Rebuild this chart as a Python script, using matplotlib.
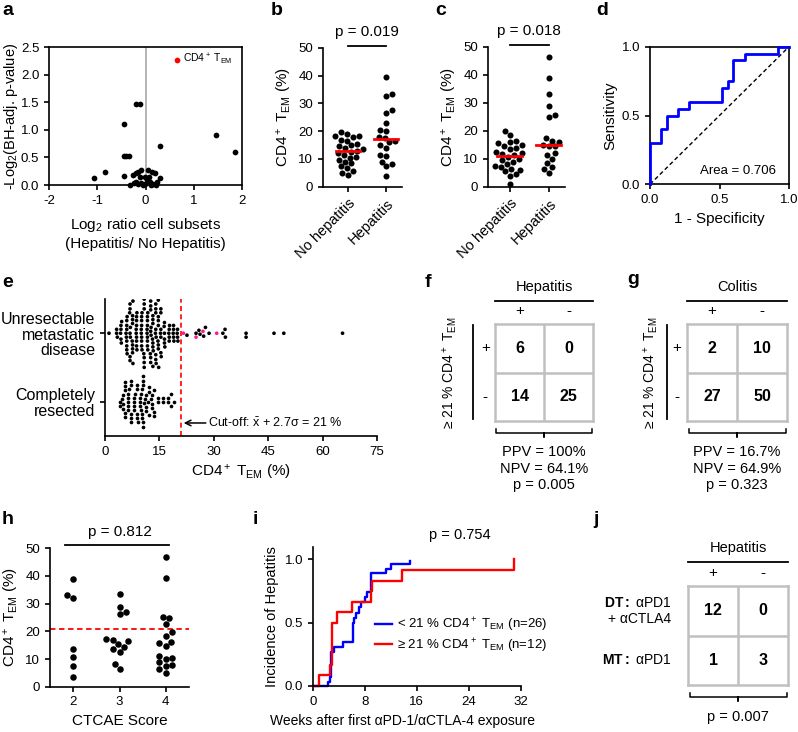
import numpy as np
import matplotlib
matplotlib.use('Agg')
import matplotlib.pyplot as plt

# ---- data ----
# a: volcano plot
a_log2ratio = [-1.06, -0.84, -0.45, -0.44, -0.40, -0.35, -0.19, -0.12, -0.45, -0.32,
               0.30, 1.47, 1.85, -0.23, -0.20, -0.16, -0.10, -0.12, -0.19, -0.09,
               -0.02, 0.03, 0.05, 0.13, 0.19, 0.10, 0.15, 0.24, 0.30, 0.22,
               -0.02, -0.26, 0.08, -0.06, -0.16, 0.12]
a_neglogp = [0.12, 0.23, 1.11, 0.53, 0.53, 0.53, 1.47, 1.47, 0.16, 0.00,
             0.70, 0.90, 0.60, 0.04, 0.21, 0.24, 0.28, 0.15, 0.06, 0.04,
             0.02, 0.09, 0.28, 0.24, 0.21, 0.06, 0.02, 0.06, 0.12, 0.00,
             0.15, 0.18, 0.15, 0.00, 0.01, 0.00]
a_tem_x, a_tem_y = 0.65, 2.27

# b, c: CD4+ TEM in two cohorts
groups = ['No hepatitis', 'Hepatitis']
b_nohep = [19.8, 19.0, 18.2, 18.2, 17.8, 16.8, 16.5, 15.3, 15.0, 14.5, 13.8, 13.5, 13.0,
           12.6, 12.2, 11.5, 10.8, 10.5, 9.6, 9.0, 8.4, 7.5, 6.6, 5.8, 4.8, 4.2]
b_hep = [39.5, 33.5, 32.5, 27.5, 26.5, 23.0, 20.5, 20.0, 18.0, 17.5, 16.5, 16.0, 15.0,
         14.0, 11.5, 11.0, 9.0, 8.0, 7.5, 4.0]
c_nohep = [20.0, 18.5, 16.5, 16.0, 15.5, 15.0, 14.5, 14.0, 13.5, 12.5, 12.0, 11.8, 11.5,
           10.5, 10.0, 9.5, 9.0, 8.0, 7.5, 7.0, 6.5, 6.0, 5.5, 4.5, 4.0, 1.0]
c_hep = [46.5, 39.0, 33.0, 29.0, 25.5, 25.0, 17.5, 16.5, 16.0, 15.0, 14.5, 14.5, 12.0,
         11.5, 10.0, 8.5, 7.0, 6.5, 5.0]
b_p, c_p = '0.019', '0.018'

# d: ROC
roc_fpr = [0, 0, 0.08, 0.12, 0.20, 0.28, 0.52, 0.56, 0.60, 0.68, 0.92, 1.0]
roc_tpr = [0, 0.30, 0.40, 0.50, 0.55, 0.60, 0.70, 0.75, 0.90, 0.95, 1.0, 1.0]
roc_auc = '0.706'

# e: CD4+ TEM by cohort
e_rows = ['Unresectable\nmetastatic\ndisease', 'Completely\nresected']
e_unres = [1.1,
           3.2, 3.2, 3.4,
           4.4, 4.4, 4.5, 4.6, 4.3, 4.4,
           5.8, 6.0, 6.0, 6.0, 6.1, 6.0, 5.9, 6.0, 6.1, 6.0,
           6.9, 6.9, 7.0, 6.8, 6.9, 7.0, 6.9, 6.9,
           7.6, 7.6, 7.7, 7.5, 7.6, 7.6, 7.7, 7.6, 7.6,
           8.7, 8.7, 8.8, 8.6, 8.7, 8.7, 8.8, 8.7, 8.6, 8.7,
           10.1, 10.1, 10.0, 10.2, 10.1, 10.1, 10.0, 10.1, 10.2, 10.1,
           10.8, 10.8, 10.9, 10.8, 10.7, 10.8, 10.8, 10.8,
           11.7, 11.7, 11.8, 11.6, 11.7, 11.7, 11.8, 11.7, 11.7, 11.6,
           12.6, 12.6, 12.7, 12.5, 12.6, 12.6, 12.6, 12.7, 12.6,
           13.2, 13.2, 13.3, 13.2, 13.1, 13.2, 13.2, 13.2,
           14.0, 14.0, 14.1, 13.9, 14.0, 14.0, 14.0, 14.1, 14.0,
           14.7, 14.7, 14.8, 14.7, 14.6, 14.7, 14.7, 14.7,
           15.4, 15.4, 15.5, 15.3, 15.4, 15.4, 15.4,
           16.4, 16.4, 16.5, 16.3, 16.4, 16.4,
           17.7, 17.7, 17.8, 17.6, 17.7,
           18.9, 18.9, 19.0, 18.8, 18.9,
           20.0, 20.0, 20.1, 19.9,
           22.6, 25.1, 25.9, 26.2, 27.2, 27.7, 28.7, 32.5, 33.1, 33.2,
           38.9, 38.9, 46.6, 49.3, 65.5]
e_unres_hep = [21.6, 25.1, 27.0, 30.8]
e_resected = [4.0, 4.0, 4.9, 4.9, 4.8, 5.0, 5.5, 5.5, 5.6, 5.4, 5.5,
              6.4, 6.4, 6.3, 6.5, 6.4, 6.4, 7.2, 7.2, 7.3, 7.1, 7.2,
              8.1, 8.1, 8.2, 8.0, 8.1, 8.9, 8.9, 9.0, 8.8, 8.9,
              9.7, 9.7, 9.8, 9.6, 10.1, 10.1, 10.2, 10.0,
              10.6, 10.6, 10.7, 10.5, 10.6, 10.6, 11.2, 11.2, 11.3, 11.1,
              12.0, 12.0, 12.1, 11.9, 12.9, 12.9, 13.0, 12.8,
              13.5, 13.5, 13.6, 14.7, 14.7, 16.1, 16.1, 17.5, 17.5,
              18.1, 18.1, 18.9]
cutoff = 21

# f, g, j: contingency tables
f_counts = [[6, 0], [14, 25]]
f_stats = ['PPV = 100%', 'NPV = 64.1%', 'p = 0.005']
g_counts = [[2, 10], [27, 50]]
g_stats = ['PPV = 16.7%', 'NPV = 64.9%', 'p = 0.323']
j_counts = [[12, 0], [1, 3]]
j_rows = ['$\\mathbf{DT:}$ αPD1\n+ αCTLA4', '$\\mathbf{MT:}$ αPD1']
j_stats = ['p = 0.007']

# h: CTCAE score
h_scores = [2, 3, 4]
h_vals = [[38.8, 33.1, 32.2, 13.5, 10.8, 7.5, 3.4],
          [33.4, 28.7, 26.9, 26.1, 17.2, 16.9, 16.5, 15.3, 14.3, 13.6, 12.4, 8.1, 6.3],
          [46.7, 39.3, 25.3, 24.8, 22.7, 19.9, 18.4, 16.3, 15.7, 14.6, 11.2, 10.5, 10.1,
           8.8, 7.8, 7.5, 6.3, 5.1]]
h_p = '0.812'

# i: cumulative incidence of hepatitis
blue_t = [0, 2.4, 2.7, 2.85, 3.2, 4.7, 6.15, 6.3, 6.6, 7.1, 7.5, 8.0, 8.4, 8.9, 11.3, 12.0, 15.0]
blue_y = [0, 0.035, 0.075, 0.27, 0.31, 0.35, 0.50, 0.54, 0.58, 0.62, 0.66, 0.70, 0.74,
          0.89, 0.92, 0.96, 0.99]
red_t = [0, 0.9, 2.7, 2.9, 3.8, 6.0, 9.0, 9.1, 13.8, 30.9]
red_y = [0, 0.083, 0.167, 0.50, 0.583, 0.667, 0.75, 0.833, 0.917, 1.0]
i_p = '0.754'

# ---- style ----
plt.rcParams['font.family'] = ['Liberation Sans', 'DejaVu Sans']
plt.rcParams['mathtext.fontset'] = 'custom'
plt.rcParams['mathtext.rm'] = 'Liberation Sans'
plt.rcParams['mathtext.it'] = 'Liberation Sans:italic'
plt.rcParams['mathtext.bf'] = 'Liberation Sans:bold'
plt.rcParams['mathtext.default'] = 'regular'
plt.rcParams['axes.unicode_minus'] = False
plt.rcParams['axes.linewidth'] = 1.2
plt.rcParams['xtick.major.width'] = 1.2
plt.rcParams['ytick.major.width'] = 1.2
plt.rcParams['xtick.major.size'] = 3.5
plt.rcParams['ytick.major.size'] = 3.5
plt.rcParams['xtick.labelsize'] = 9.5
plt.rcParams['ytick.labelsize'] = 9.5
plt.rcParams['axes.labelsize'] = 11

RED = '#ff0000'
BLUE = '#0000ff'
PINK = '#ff1a8c'
GRAY = '#c0c0c0'
TEM = 'CD4$^+$ T$_{EM}$'

W, H = 798, 732
fig = plt.figure(figsize=(W / 100, H / 100), dpi=100)


def add_ax(l, t, r, b):
    return fig.add_axes([l / W, 1 - b / H, (r - l) / W, (b - t) / H])


def open_axes(ax):
    ax.spines['top'].set_visible(False)
    ax.spines['right'].set_visible(False)


def swarm_offsets(ax, vals, d, horizontal=False):
    # simple beeswarm in pixel space, returns offsets in data units
    p0 = ax.transData.transform((0, 0))
    p1 = ax.transData.transform((1, 1))
    sx, sy = np.abs(p1 - p0)
    sv, ss = (sx, sy) if horizontal else (sy, sx)
    vals = np.asarray(vals, float)
    offs = np.zeros(len(vals))
    placed = []
    sgn = 1
    for i in np.argsort(vals, kind='stable'):
        v = vals[i] * sv
        cands = [0.0] + [s * k * d * 0.25 for k in range(1, 400) for s in (sgn, -sgn)]
        for o in cands:
            if all((v - pv) ** 2 + (o - po) ** 2 >= d * d for pv, po in placed):
                break
        placed.append((v, o))
        offs[i] = o / ss
        sgn = -sgn
    return offs


def panel_label(x, y, s):
    fig.text(x / W, 1 - y / H, s, fontsize=14, fontweight='bold', va='baseline')


# ---- a ----
ax = add_ax(49, 47, 242, 185)
ax.axvline(0, color='#a8a8a8', lw=1.2, zorder=0)
ax.scatter(a_log2ratio, a_neglogp, s=17, color='k', lw=0, zorder=3, clip_on=False)
ax.scatter([a_tem_x], [a_tem_y], s=17, color=RED, lw=0, zorder=3)
ax.text(a_tem_x + 0.13, a_tem_y, TEM, fontsize=7.5, va='center')
ax.set_xlim(-2, 2)
ax.set_ylim(0, 2.5)
ax.set_xticks(range(-2, 3))
ax.set_yticks(np.arange(0, 2.51, 0.5))
ax.yaxis.set_major_formatter('{x:.1f}')
ax.set_xlabel('Log$_2$ ratio cell subsets\n(Hepatitis/ No Hepatitis)', labelpad=7)
ax.set_ylabel('-Log$_2$(BH-adj. p-value)', fontsize=10.5)
ax.yaxis.set_label_coords(-0.148, 0.5)


# ---- b, c ----
def column_panel(ax, data, pval, xlim):
    ax.set_xlim(*xlim)
    ax.set_ylim(0, 50)
    for k, vals in enumerate(data):
        off = swarm_offsets(ax, vals, 6.0)
        ax.scatter(k + off, vals, s=19, color='k', lw=0, zorder=3, clip_on=False)
        med = np.median(vals)
        ax.plot([k - 0.32, k + 0.32], [med, med], color=RED, lw=2, zorder=4)
    ax.plot([0, 1], [50.6, 50.6], color='k', lw=1.3, clip_on=False)
    ax.text(0.5, 53, f'p = {pval}', ha='center', va='bottom', fontsize=11)
    ax.set_xticks([0, 1])
    ax.set_xticklabels(groups, rotation=45, ha='right', rotation_mode='anchor', fontsize=10.5)
    ax.set_yticks(range(0, 51, 10))
    ax.set_ylabel(TEM + ' (%)', labelpad=3)
    open_axes(ax)


column_panel(add_ax(323, 47.7, 402, 186.7), [b_nohep, b_hep], b_p, (-0.66, 1.42))
column_panel(add_ax(488, 46.7, 565, 186.7), [c_nohep, c_hep], c_p, (-0.56, 1.41))

# ---- d ----
ax = add_ax(650, 46.7, 789, 184.3)
ax.plot([0, 1], [0, 1], color='k', ls=(0, (3, 2)), lw=1)
ax.step(roc_fpr, roc_tpr, where='post', color=BLUE, lw=2, clip_on=False, zorder=3)
ax.set_xlim(0, 1)
ax.set_ylim(0, 1)
ax.set_xticks([0, 0.5, 1])
ax.set_yticks([0, 0.5, 1])
ax.xaxis.set_major_formatter('{x:.1f}')
ax.yaxis.set_major_formatter('{x:.1f}')
ax.text(0.63, 0.1, f'Area = {roc_auc}', ha='center', va='center', fontsize=9.5)
ax.set_xlabel('1 - Specificity')
ax.set_ylabel('Sensitivity', labelpad=3)

# ---- e ----
ax = add_ax(105, 299, 377, 436)
ax.set_xlim(0, 75)
ax.set_ylim(-0.5, 1.5)
unres_all = e_unres + e_unres_hep
unres_col = ['k'] * len(e_unres) + [PINK] * len(e_unres_hep)
off = swarm_offsets(ax, unres_all, 3.9, horizontal=True)
ax.scatter(unres_all, 1 + off, s=7, c=unres_col, lw=0, zorder=3)
off = swarm_offsets(ax, e_resected, 4.1, horizontal=True)
ax.scatter(e_resected, off, s=7, color='k', lw=0, zorder=3)
ax.axvline(cutoff, color=RED, ls=(0, (3, 2)), lw=1.2)
ax.annotate('', xy=(cutoff + 0.7, -0.31), xytext=(cutoff + 6.8, -0.31),
            arrowprops=dict(arrowstyle='->', lw=1.1, color='k', shrinkA=0, shrinkB=0))
ax.text(cutoff + 7.4, -0.31, 'Cut-off: $\\bar{x}$ + 2.7σ = 21 %', va='center', fontsize=9)
ax.set_yticks([1, 0])
ax.set_yticklabels(e_rows, fontsize=11.5, linespacing=1.05)
ax.set_xticks(range(0, 76, 15))
ax.set_xlabel(TEM + ' (%)')
open_axes(ax)


# ---- f, g, j tables ----
def table_panel(ax, counts, header, stats):
    ax.set_xlim(0, 2)
    ax.set_ylim(2, 0)
    ax.set_xticks([])
    ax.set_yticks([])
    for sp in ax.spines.values():
        sp.set_color(GRAY)
        sp.set_linewidth(1.8)
    ax.axhline(1, color=GRAY, lw=1.8)
    ax.axvline(1, color=GRAY, lw=1.8)
    for i in range(2):
        for j in range(2):
            ax.text(j + 0.5, i + 0.5, str(counts[i][j]), ha='center', va='center',
                    fontsize=11.5, fontweight='bold')
    ax.text(1, -0.76, header, ha='center', va='center', fontsize=10.5)
    ax.plot([0.0, 2.0], [-0.48, -0.48], color='k', lw=1.3, clip_on=False)
    for j, s in enumerate(['+', '-']):
        ax.text(j + 0.5, -0.26, s, ha='center', va='center', fontsize=11)
    ax.plot([0.03, 0.03, 1, 1, 1, 1.97, 1.97], [2.17, 2.25, 2.25, 2.33, 2.25, 2.25, 2.17],
            color='k', lw=1.1, clip_on=False)
    for k, s in enumerate(stats):
        ax.text(1, 2.64 + 0.34 * k, s, ha='center', va='center', fontsize=10.5)


def table_rows(ax, line_x, label_x):
    for i, s in enumerate(['+', '-']):
        ax.text(-0.2, i + 0.5, s, ha='center', va='center', fontsize=11)
    ax.plot([line_x, line_x], [0.02, 1.95], color='k', lw=1.3, clip_on=False)
    ax.text(label_x, 1.0, '≥ 21 % ' + TEM, rotation=90, ha='center', va='center', fontsize=10)


ax = add_ax(495, 324, 593, 421)
table_panel(ax, f_counts, 'Hepatitis', f_stats)
table_rows(ax, -0.45, -0.92)

ax = add_ax(687, 324, 787, 421)
table_panel(ax, g_counts, 'Colitis', g_stats)
table_rows(ax, -0.41, -0.73)

ax = add_ax(688, 586, 788, 685)
table_panel(ax, j_counts, 'Hepatitis', [])
for i, s in enumerate(j_rows):
    ax.text(-0.33, i + 0.5, s, ha='right', va='center', multialignment='right', fontsize=10)
ax.text(1, 2.64, j_stats[0], ha='center', va='center', fontsize=10.5)

# ---- h ----
ax = add_ax(50, 548.3, 189, 686.7)
ax.set_xlim(1.5, 4.5)
ax.set_ylim(0, 50)
for sc, vals in zip(h_scores, h_vals):
    off = swarm_offsets(ax, vals, 6.5)
    ax.scatter(sc + off, vals, s=22, color='k', lw=0, zorder=3)
ax.axhline(cutoff, color=RED, ls=(0, (3, 2)), lw=1.3)
ax.plot([1.82, 4.07], [51.2, 51.2], color='k', lw=1.3, clip_on=False)
ax.text(3.0, 53.5, f'p = {h_p}', ha='center', va='bottom', fontsize=11)
ax.set_xticks(h_scores)
ax.set_yticks(range(0, 51, 10))
ax.set_xlabel('CTCAE Score')
ax.set_ylabel(TEM + ' (%)', labelpad=3)
open_axes(ax)

# ---- i ----
ax = add_ax(312.7, 546.7, 520.7, 686)
ax.step(blue_t, blue_y, where='post', color=BLUE, lw=1.7, clip_on=False,
        label='< 21 % ' + TEM + ' (n=26)')
ax.step(red_t, red_y, where='post', color=RED, lw=1.7, clip_on=False,
        label='≥ 21 % ' + TEM + ' (n=12)')
ax.set_xlim(0, 32)
ax.set_ylim(0, 1.1)
ax.set_xticks(range(0, 33, 8))
ax.set_yticks([0, 0.5, 1.0])
ax.yaxis.set_major_formatter('{x:.1f}')
ax.text(22.7, 1.19, f'p = {i_p}', ha='center', va='center', fontsize=10.5)
ax.legend(loc='upper left', bbox_to_anchor=(0.3, 0.5), frameon=False, fontsize=9.5,
          handlelength=1.25, handletextpad=0.4, labelspacing=0.15, borderpad=0,
          borderaxespad=0)
ax.set_xlabel('Weeks after first αPD-1/αCTLA-4 exposure', fontsize=10)
ax.xaxis.set_label_coords(0.434, -0.2)
ax.set_ylabel('Incidence of Hepatitis', fontsize=10.5)
open_axes(ax)

# ---- panel letters ----
for x, y, s in [(2, 15, 'a'), (271, 15, 'b'), (435, 15, 'c'), (596, 15, 'd'),
                (2, 287, 'e'), (425, 287, 'f'), (627, 284, 'g'),
                (2, 524, 'h'), (253, 524, 'i'), (593, 524, 'j')]:
    panel_label(x, y, s)

fig.savefig('out.png', dpi=100)
